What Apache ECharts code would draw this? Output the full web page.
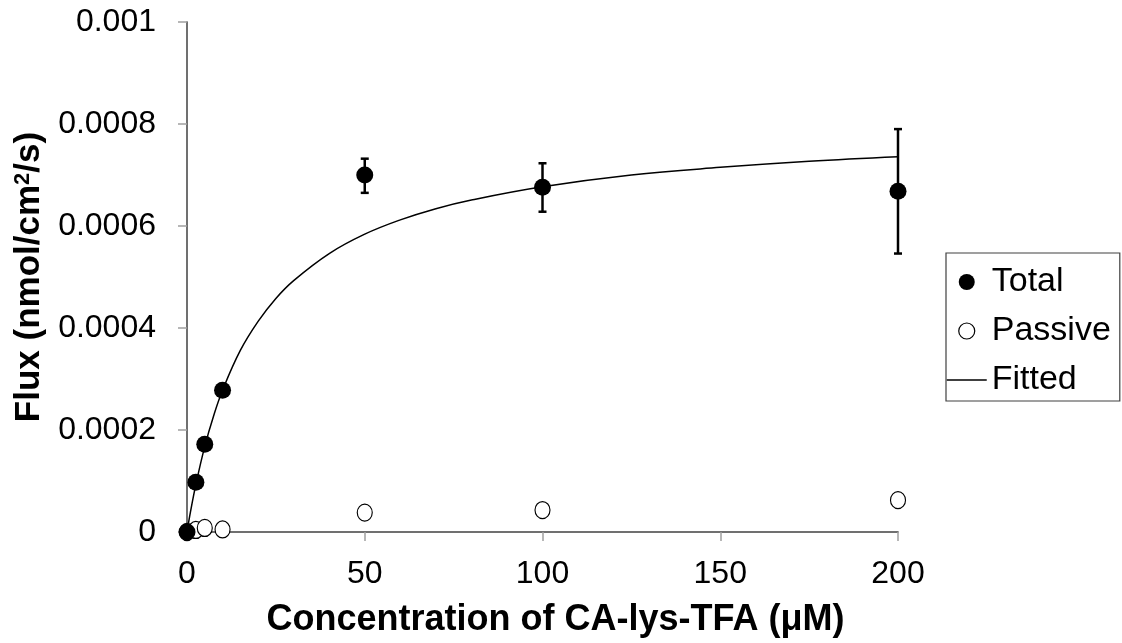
<!DOCTYPE html>
<html>
<head>
<meta charset="utf-8">
<script src="https://cdn.jsdelivr.net/npm/echarts@6/dist/echarts.min.js"></script>
<style>
html,body{margin:0;padding:0;background:#fff;}
#chart{width:1122px;height:643px;}
</style>
</head>
<body>
<div id="chart"></div>
<script>
// Data
const totalX = [0, 2.5, 5, 10, 50, 100, 200];
const totalY = [0, 0.0000975, 0.000172, 0.000278, 0.000700, 0.000676, 0.000668];
const errX = [50, 100, 200];
const errLow = [0.000665, 0.000628, 0.000546];
const errHigh = [0.000732, 0.000723, 0.000790];
const passiveX = [0, 2.5, 5, 10, 50, 100, 200];
const passiveY = [0, 0.000004, 0.000008, 0.000005, 0.000038, 0.000043, 0.0000625];
const fitX = [0, 1, 2.5, 5, 7.5, 10, 15, 20, 25, 30, 40, 50, 60, 70, 80, 100, 125, 150, 175, 200];
const fitY = [0, 0.0000403, 0.0000935, 0.000168, 0.000228, 0.000278, 0.000356, 0.000413, 0.000458, 0.000493,
  0.000546, 0.000584, 0.000612, 0.000634, 0.000651, 0.000677, 0.000700, 0.000715, 0.000727, 0.000736];
const xTicks = [0, 50, 100, 150, 200];
const yTicks = [0, 0.0002, 0.0004, 0.0006, 0.0008, 0.001];

const zip = (a, b) => a.map((v, i) => [v, b[i]]);
const font = 'Liberation Sans, Arial, sans-serif';

const chart = echarts.init(document.getElementById('chart'));
chart.setOption({
  animation: false,
  backgroundColor: '#fff',
  grid: { left: 187, right: 224, top: 22, bottom: 110, containLabel: false },
  legend: {
    orient: 'vertical',
    left: 946, top: 253,
    padding: [11, 9, 3, 0],
    borderColor: '#404040', borderWidth: 1.2,
    itemWidth: 40, itemHeight: 16, itemGap: 13,
    textStyle: { fontFamily: font, fontSize: 34, color: '#000', lineHeight: 36 },
    data: [
      { name: 'Total', icon: 'circle' },
      { name: 'Passive', icon: 'circle', itemStyle: { color: '#fff', borderColor: '#000', borderWidth: 1.2 } },
      { name: 'Fitted', itemStyle: { opacity: 0 }, lineStyle: { color: '#000', width: 1.5, opacity: 1 } }
    ]
  },
  xAxis: [{
    type: 'value', min: 0, max: 200, interval: 50,
    name: 'Concentration of CA-lys-TFA (μM)',
    nameLocation: 'middle', nameGap: 70,
    nameTextStyle: { fontFamily: font, fontSize: 36, fontWeight: 'bold', color: '#000', padding: [0, 0, 0, 26] },
    axisLine: { lineStyle: { color: '#a0a0a0', width: 1.5 } },
    axisTick: { show: true, length: 9, lineStyle: { color: '#a0a0a0', width: 1.5 } },
    axisLabel: { fontFamily: font, fontSize: 32, color: '#000', margin: 26,
      formatter: v => xTicks.includes(v) ? String(v) : '' },
    splitLine: { show: false }
  }, {
    type: 'value', min: 0, max: 200, position: 'top',
    axisLine: { show: true, lineStyle: { color: '#595959', width: 1.5 } },
    axisTick: { show: false }, axisLabel: { show: false }, splitLine: { show: false }
  }],
  yAxis: [{
    type: 'value', min: 0, max: 0.001, interval: 0.0002,
    name: 'Flux (nmol/cm{sup|2}/s)',
    nameLocation: 'middle', nameGap: 140, nameRotate: 90,
    nameTextStyle: { fontFamily: font, fontSize: 35, fontWeight: 'bold', color: '#000',
      rich: { sup: { fontFamily: font, fontSize: 22, fontWeight: 'bold', color: '#000', verticalAlign: 'top', padding: [0, 0, 12, 0] } } },
    axisLine: { show: true, lineStyle: { color: '#a0a0a0', width: 1.5 } },
    axisTick: { show: true, length: 9, lineStyle: { color: '#a0a0a0', width: 1.5 } },
    axisLabel: { fontFamily: font, fontSize: 32, color: '#000', margin: 31,
      formatter: v => { const t = yTicks.find(k => Math.abs(k - v) < 1e-9); return t === undefined ? '' : (t === 0 ? '0' : String(+t.toFixed(4))); } },
    splitLine: { show: false }
  }, {
    type: 'value', min: 0, max: 0.001, position: 'right',
    axisLine: { show: true, lineStyle: { color: '#595959', width: 1.5 } },
    axisTick: { show: false }, axisLabel: { show: false }, splitLine: { show: false }
  }],
  series: [
    {
      name: 'Fitted', type: 'line', data: zip(fitX, fitY), smooth: 0.4,
      showSymbol: false, symbol: 'none',
      lineStyle: { color: '#000', width: 1.5 }, itemStyle: { color: '#000' }, z: 2
    },
    {
      name: 'errbars', type: 'custom', z: 3,
      data: errX.map((x, i) => [x, errLow[i], errHigh[i]]),
      renderItem: (params, api) => {
        const lo = api.coord([api.value(0), api.value(1)]);
        const hi = api.coord([api.value(0), api.value(2)]);
        const w = 4;
        const st = { stroke: '#000', lineWidth: 2.5 };
        return { type: 'group', children: [
          { type: 'line', shape: { x1: lo[0], y1: lo[1], x2: hi[0], y2: hi[1] }, style: st },
          { type: 'line', shape: { x1: lo[0] - w, y1: lo[1], x2: lo[0] + w, y2: lo[1] }, style: st },
          { type: 'line', shape: { x1: hi[0] - w, y1: hi[1], x2: hi[0] + w, y2: hi[1] }, style: st }
        ]};
      }
    },
    {
      name: 'Passive', type: 'scatter', data: zip(passiveX, passiveY), symbol: 'circle', symbolSize: [15, 17],
      itemStyle: { color: '#fff', borderColor: '#000', borderWidth: 1.2, opacity: 1 }, z: 4
    },
    {
      name: 'Total', type: 'scatter', data: zip(totalX, totalY), symbol: 'circle', symbolSize: 17,
      itemStyle: { color: '#000', opacity: 1 }, z: 5
    }
  ]
});
</script>
</body>
</html>
